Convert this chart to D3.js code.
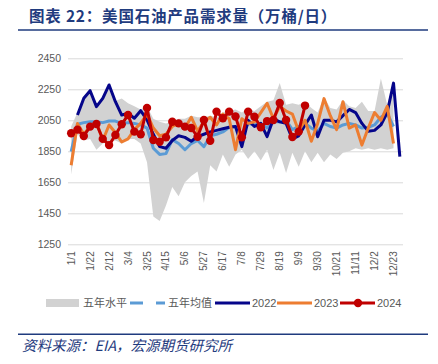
<!DOCTYPE html>
<html>
<head>
<meta charset="utf-8">
<script src="https://cdn.jsdelivr.net/npm/d3@7"></script>
<style>
  body { margin: 0; background: #fff; }
</style>
</head>
<body>
<div id="chart"></div>
<script>
// weekly categories (53 weeks)
const weeks = ["1/1","1/8","1/15","1/22","1/29","2/5","2/12","2/19","2/26","3/4","3/11","3/18","3/25",
  "4/1","4/8","4/15","4/22","4/29","5/6","5/13","5/20","5/27","6/3","6/10","6/17","6/24",
  "7/1","7/8","7/15","7/22","7/29","8/5","8/12","8/19","8/26","9/2","9/9","9/16","9/23","9/30",
  "10/7","10/14","10/21","10/28","11/4","11/11","11/18","11/25","12/2","12/9","12/16","12/23","12/30"]
const tickWeeks = ["1/1","1/22","2/12","3/4","3/25","4/15","5/6","5/27","6/17","7/8","7/29","8/19",
  "9/9","9/30","10/21","11/11","12/2","12/23"]
const yTicks = [1250, 1450, 1650, 1850, 2050, 2250, 2450]

// 五年水平 (max / min)
const range5High = [2010,2100,2200,2245,2150,2200,2280,2175,2190,2160,2140,2120,2140,
  2060,2040,2030,2040,2060,2060,2080,2070,2070,2080,2070,2100,2110,
  2120,2100,2120,2110,2140,2170,2180,2290,2150,2160,2150,2170,2130,
  2100,2200,2130,2120,2180,2140,2130,2170,2110,2110,2320,2150,2290,null]
const range5Low = [1700,1960,1920,1930,1860,1900,1910,1920,1900,1930,1930,1900,1780,
  1430,1400,1500,1620,1560,1650,1690,1720,1516,1760,1720,1830,1750,
  1830,1860,1800,1850,1790,1860,1730,1840,1710,1840,1750,1850,1780,
  1840,1780,1830,1800,1840,1850,1870,1860,1870,1860,1870,1860,1870,null]
// 五年均值
const avg5 = [1848,2025,2035,2040,2040,2035,2045,2045,2030,2035,2030,2020,2000,
  1870,1830,1835,1925,1900,1860,1900,1920,1880,1950,1960,1975,2005,
  2010,1960,2030,2020,2030,2000,2040,2040,2050,1990,2010,2030,2000,
  1980,2030,2010,2000,2020,2030,2020,2000,2005,2020,2070,2095,2010,null]
const y2022 = [null,2084,2192,2241,2138,2192,2278,2170,2084,2095,2063,2112,2052,
  1960,1880,1870,1920,1950,1940,1915,1945,1960,1975,1985,1995,2005,
  2010,1880,2050,2010,2030,1945,2060,2040,2030,1930,1950,2020,2084,
  1944,2050,2050,2040,2080,2120,2100,2030,1980,1985,2020,2100,2290,1815]
const y2023 = [1760,2030,1960,2010,2040,1920,2020,1970,1910,1930,1990,2030,2090,
  2000,1950,1960,2010,2030,2000,2070,1980,2040,2070,2020,2090,2060,
  1860,2060,2030,2040,2100,2160,2060,2140,2110,2090,1980,2050,1915,
  2030,2190,2080,1990,2170,2000,2020,1890,2000,2100,2050,2140,1900,null]
const y2024 = [1966,1990,1949,2009,2026,1930,1890,1955,2025,2084,1977,1960,2130,
  1923,1912,1940,2041,2030,2009,2000,1944,2052,1918,2106,2063,2106,
  2075,1940,2106,2073,2005,2045,2052,2162,2052,1942,1977,2145]

const width = 438, height = 364
const titleColor = "#1f3b7e"
const textColor = "#595959"
const font = "'Liberation Sans', 'Noto Sans CJK SC', sans-serif"

const svg = d3.select("#chart")
  .append("svg")
    .attr("width", width)
    .attr("height", height)
    .style("font-family", font)

svg.append("rect")
  .attr("width", width)
  .attr("height", height)
  .attr("fill", "#fff")

// title
svg.append("text")
  .attr("x", 29)
  .attr("y", 22)
  .attr("font-size", 15.5)
  .attr("font-weight", "bold")
  .attr("letter-spacing", 0.8)
  .attr("fill", titleColor)
  .style("font-family", "'Noto Sans CJK SC', sans-serif")
  .text("图表 22：美国石油产品需求量（万桶/日）")

svg.append("line")
  .attr("x1", 18).attr("x2", 428)
  .attr("y1", 30).attr("y2", 30)
  .attr("stroke", titleColor)
  .attr("stroke-width", 1.5)

const x = d3.scaleBand()
  .domain(weeks)
  .range([68, 403])
const cx = i => x(weeks[i]) + x.bandwidth() / 2

const y = d3.scaleLinear()
  .domain([1250, 2450])
  .range([244.3, 58.3])

// y axis + grid
const yAxis = svg.append("g")
  .attr("transform", "translate(68,0)")
  .call(d3.axisLeft(y).tickValues(yTicks).tickFormat(d3.format("d")).tickSize(-335).tickPadding(7))
yAxis.select(".domain").remove()
yAxis.selectAll("line").attr("stroke", "#d9d9d9")
yAxis.selectAll("text")
  .attr("fill", textColor)
  .attr("font-size", 10.5)
  .style("font-family", font)

// x axis
const xAxis = svg.append("g")
  .attr("transform", "translate(0,244.3)")
  .call(d3.axisBottom(x).tickValues(tickWeeks).tickSize(0))
xAxis.select(".domain").remove()
xAxis.selectAll("text")
  .attr("transform", "rotate(-90)")
  .attr("x", -7)
  .attr("y", 0)
  .attr("dy", "0.35em")
  .attr("text-anchor", "end")
  .attr("fill", textColor)
  .attr("font-size", 10)
  .style("font-family", font)

const idx = d3.range(weeks.length)

// five-year range band
const area = d3.area()
  .defined(i => range5High[i] != null)
  .x(i => cx(i))
  .y0(i => y(range5Low[i]))
  .y1(i => y(range5High[i]))

svg.append("path")
  .attr("d", area(idx))
  .attr("fill", "#d2d2d2")

const lineOf = arr => d3.line()
  .defined(i => arr[i] != null)
  .x(i => cx(i))
  .y(i => y(arr[i]))

const series = [
  { data: avg5, color: "#5b9bd5", w: 3 },
  { data: y2022, color: "#05058a", w: 3 },
  { data: y2023, color: "#ed7d31", w: 3 },
  { data: y2024, color: "#c00000", w: 3 }
]

series.forEach(s => {
  svg.append("path")
    .attr("d", lineOf(s.data)(idx.filter(i => i < s.data.length)))
    .attr("fill", "none")
    .attr("stroke", s.color)
    .attr("stroke-width", s.w)
    .attr("stroke-linejoin", "round")
})

svg.append("g")
  .selectAll("circle")
  .data(y2024)
  .enter()
  .append("circle")
    .attr("cx", (d, i) => cx(i))
    .attr("cy", d => y(d))
    .attr("r", 4.2)
    .attr("fill", "#c00000")

// legend
const ly = 303
const legend = svg.append("g")
  .attr("font-size", 11)
  .attr("fill", textColor)

legend.append("rect")
  .attr("x", 46).attr("y", ly - 4)
  .attr("width", 33).attr("height", 8)
  .attr("fill", "#d2d2d2")
legend.append("text").attr("x", 83).attr("y", ly).attr("dy", "0.35em")
  .style("font-family", "'Noto Sans CJK SC', sans-serif").text("五年水平")

legend.append("line").attr("x1", 130).attr("x2", 143).attr("y1", ly).attr("y2", ly)
  .attr("stroke", "#5b9bd5").attr("stroke-width", 3)
legend.append("line").attr("x1", 156).attr("x2", 165).attr("y1", ly).attr("y2", ly)
  .attr("stroke", "#5b9bd5").attr("stroke-width", 3)
legend.append("text").attr("x", 168).attr("y", ly).attr("dy", "0.35em")
  .style("font-family", "'Noto Sans CJK SC', sans-serif").text("五年均值")

legend.append("line").attr("x1", 215).attr("x2", 250).attr("y1", ly).attr("y2", ly)
  .attr("stroke", "#05058a").attr("stroke-width", 3)
legend.append("text").attr("x", 252).attr("y", ly).attr("dy", "0.35em").text("2022")

legend.append("line").attr("x1", 277).attr("x2", 312).attr("y1", ly).attr("y2", ly)
  .attr("stroke", "#ed7d31").attr("stroke-width", 3)
legend.append("text").attr("x", 314).attr("y", ly).attr("dy", "0.35em").text("2023")

legend.append("line").attr("x1", 340).attr("x2", 375).attr("y1", ly).attr("y2", ly)
  .attr("stroke", "#c00000").attr("stroke-width", 3)
legend.append("circle").attr("cx", 358).attr("cy", ly).attr("r", 4.2).attr("fill", "#c00000")
legend.append("text").attr("x", 377).attr("y", ly).attr("dy", "0.35em").text("2024")

// footer
svg.append("line")
  .attr("x1", 18).attr("x2", 428)
  .attr("y1", 334.3).attr("y2", 334.3)
  .attr("stroke", titleColor)
  .attr("stroke-width", 1.5)

svg.append("text")
  .attr("x", 22)
  .attr("y", 351)
  .attr("font-size", 14.5)
  .attr("font-style", "italic")
  .attr("fill", titleColor)
  .style("font-family", "'Noto Sans CJK SC', serif")
  .text("资料来源：EIA，宏源期货研究所")
</script>
</body>
</html>
